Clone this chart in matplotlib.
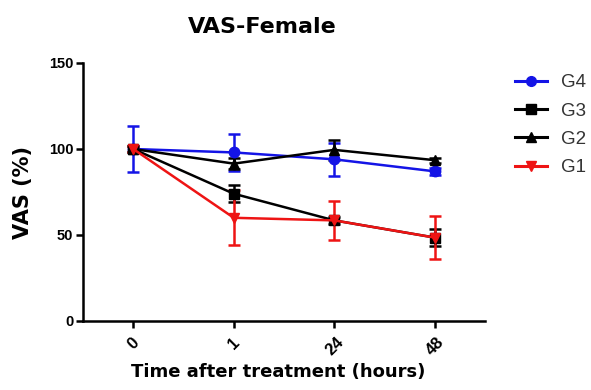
import matplotlib
matplotlib.use("Agg")
import matplotlib.pyplot as plt
from matplotlib.lines import Line2D
import numpy as np

plt.rcParams['font.family'] = ['Liberation Sans', 'DejaVu Sans']

time_labels = ["0", "1", "24", "48"]
groups = ["G4", "G3", "G2", "G1"]

g4_mean = [100, 98, 94, 87]
g4_err = [13.5, 11, 9.5, 2]
g3_mean = [100, 74, 58.5, 48.5]
g3_err = [2, 5, 2, 5]
g2_mean = [100, 91.5, 99.5, 93.5]
g2_err = [2, 3, 6, 1.5]
g1_mean = [100, 60, 58.5, 48.5]
g1_err = [2, 16, 11.5, 12.5]

series = [
    ("G4", g4_mean, g4_err, "#1414e6", "o"),
    ("G3", g3_mean, g3_err, "black", "s"),
    ("G2", g2_mean, g2_err, "black", "^"),
    ("G1", g1_mean, g1_err, "#ee1414", "v"),
]

W, H = 591, 390
fig = plt.figure(figsize=(W / 100, H / 100), dpi=100)
ax = fig.add_axes([83 / W, 1 - 321 / H, (485 - 83) / W, (321 - 63) / H])

x = np.arange(len(time_labels))
handles = []
for name, m, e, c, mk in series:
    ax.errorbar(x, m, yerr=e, color=c, marker=mk, markersize=7.5, linewidth=1.8,
                elinewidth=1.8, capsize=4.5, capthick=1.8)
    handles.append(Line2D([], [], color=c, marker=mk, markersize=7,
                          linewidth=2.2, label=name))

ax.set_xlim(-0.5, 3.5)
ax.set_ylim(0, 150)
ax.set_yticks([0, 50, 100, 150])
ax.set_xticks(x)
ax.set_xticklabels(time_labels, rotation=45, ha="center")

for s in ["top", "right"]:
    ax.spines[s].set_visible(False)
for s in ["left", "bottom"]:
    ax.spines[s].set_linewidth(1.8)
ax.tick_params(axis="both", direction="out", length=5, width=1.8)
ax.tick_params(axis="y", labelsize=10.5, pad=2)
ax.tick_params(axis="x", labelsize=12, pad=5)
for lbl in ax.get_xticklabels() + ax.get_yticklabels():
    lbl.set_fontweight("bold")

fig.text(22.5 / W, 1 - 192.5 / H, "VAS (%)", fontsize=15, fontweight="bold",
         family="DejaVu Sans", rotation=90, ha="center", va="center")
fig.text(278.5 / W, 1 - 377 / H, "Time after treatment (hours)", fontsize=13,
         fontweight="bold", family="DejaVu Sans", ha="center", va="baseline")
fig.text(262 / W, 1 - 33 / H, "VAS-Female", fontsize=16, fontweight="bold",
         family="DejaVu Sans", ha="center", va="baseline")

leg = fig.legend(handles=handles, loc="upper left",
                 bbox_to_anchor=(515 / W, 1 - 74 / H), frameon=False,
                 fontsize=13.5, borderpad=0, borderaxespad=0,
                 handlelength=1.7, handletextpad=0.75, labelspacing=0.6)
for t in leg.get_texts():
    t.set_color("#333333")

fig.savefig("out.png", dpi=100)
